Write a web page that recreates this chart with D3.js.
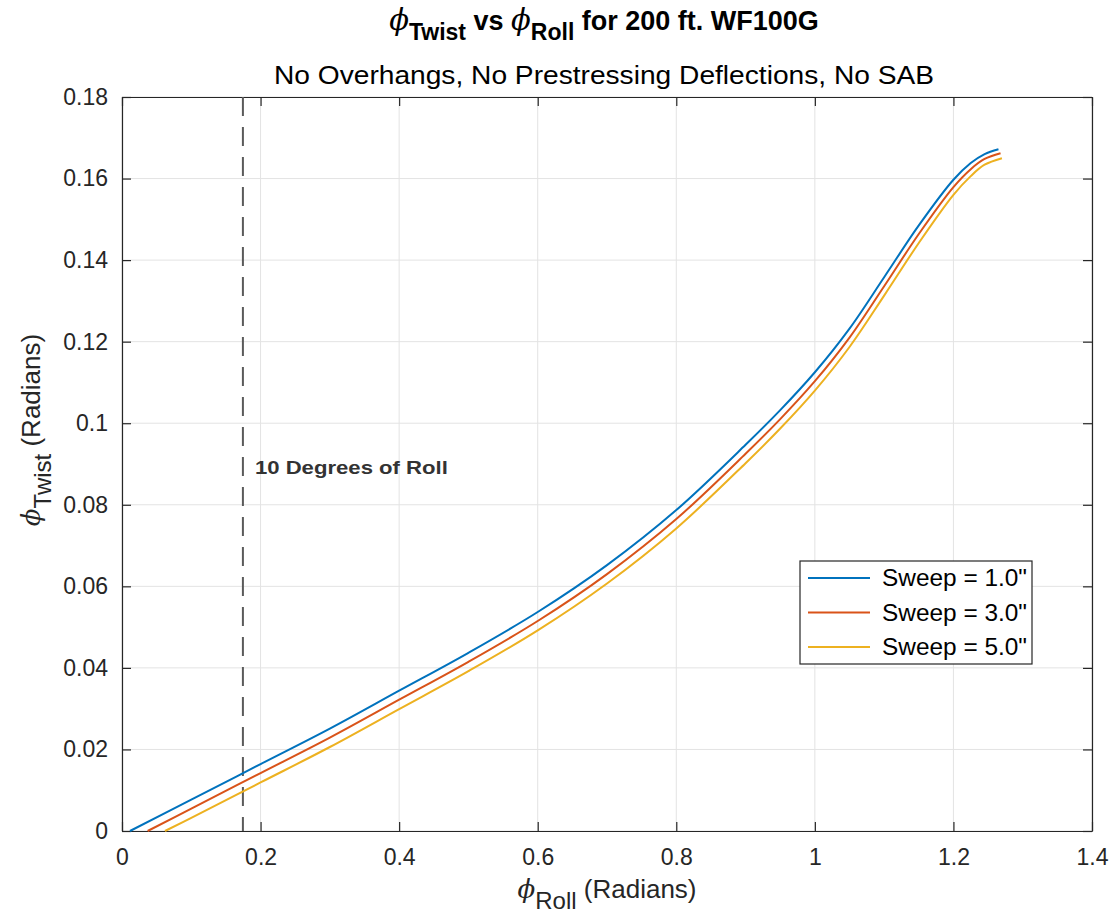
<!DOCTYPE html>
<html><head><meta charset="utf-8">
<script src="https://cdn.jsdelivr.net/npm/d3@7"></script>
<style>
body{margin:0;background:#fff;}
svg text{font-family:"Liberation Sans",Arial,Helvetica,sans-serif;}
</style></head>
<body><svg id="c" width="1110" height="919"></svg>
<script>
const seriesNames = ['Sweep = 1.0"', 'Sweep = 3.0"', 'Sweep = 5.0"'];
const seriesColors = ["#0072BD", "#D95319", "#EDB120"];
const blueRoll  = [0.0115,0.1,0.2,0.3,0.4,0.5,0.6,0.7,0.8,0.9,0.95,1.0,1.05,1.1,1.15,1.2,1.225,1.245,1.265];
const blueTwist = [0,0.0077,0.0164,0.0251,0.0344,0.0437,0.0537,0.0652,0.0787,0.0947,0.1032,0.1125,0.1232,0.1358,0.1485,0.1597,0.1638,0.1660,0.1672];
const redRoll   = [0.037,0.1,0.2,0.3,0.4,0.5,0.6,0.7,0.8,0.9,0.95,1.0,1.05,1.1,1.15,1.2,1.225,1.245,1.268];
const redTwist  = [0,0.0055,0.0142,0.0229,0.0322,0.0415,0.0515,0.0630,0.0765,0.0925,0.1010,0.1103,0.1210,0.1336,0.1464,0.1579,0.1623,0.1648,0.1662];
const yelRoll   = [0.062,0.1,0.2,0.3,0.4,0.5,0.6,0.7,0.8,0.9,0.95,1.0,1.05,1.1,1.15,1.2,1.225,1.245,1.27];
const yelTwist  = [0,0.0032,0.0119,0.0206,0.0299,0.0392,0.0492,0.0607,0.0742,0.0902,0.0987,0.1080,0.1187,0.1313,0.1442,0.1560,0.1606,0.1634,0.1650];
const xTicks = [0,0.2,0.4,0.6,0.8,1,1.2,1.4];
const yTicks = [0,0.02,0.04,0.06,0.08,0.1,0.12,0.14,0.16,0.18];
const xTickLabels = ["0","0.2","0.4","0.6","0.8","1","1.2","1.4"];
const yTickLabels = ["0","0.02","0.04","0.06","0.08","0.1","0.12","0.14","0.16","0.18"];
const rollLimit = 0.1745; // 10 degrees
const annotation = "10 Degrees of Roll";

const L=122,R=1092,T=97,B=831;
const svg=d3.select("#c");
const x=d3.scaleLinear().domain([0,1.4]).range([L,R]);
const y=d3.scaleLinear().domain([0,0.18]).range([B,T]);
const axisColor="#262626";

// grid
svg.append("g").selectAll("line").data(xTicks).join("line")
 .attr("x1",d=>x(d)).attr("x2",d=>x(d)).attr("y1",T).attr("y2",B)
 .attr("stroke","#e3e3e3").attr("stroke-width",1);
svg.append("g").selectAll("line").data(yTicks).join("line")
 .attr("y1",d=>y(d)).attr("y2",d=>y(d)).attr("x1",L).attr("x2",R)
 .attr("stroke","#e3e3e3").attr("stroke-width",1);

// axes
const fs=23;
const xb=svg.append("g").attr("transform",`translate(0,${B})`)
 .call(d3.axisBottom(x).tickValues(xTicks).tickFormat((d,i)=>xTickLabels[i]).tickSizeInner(-9).tickSizeOuter(0).tickPadding(18));
const xt=svg.append("g").attr("transform",`translate(0,${T})`)
 .call(d3.axisTop(x).tickValues(xTicks).tickFormat("").tickSizeInner(-9).tickSizeOuter(0));
const yl=svg.append("g").attr("transform",`translate(${L},0)`)
 .call(d3.axisLeft(y).tickValues(yTicks).tickFormat((d,i)=>yTickLabels[i]).tickSizeInner(-9).tickSizeOuter(0).tickPadding(14));
const yr=svg.append("g").attr("transform",`translate(${R},0)`)
 .call(d3.axisRight(y).tickValues(yTicks).tickFormat("").tickSizeInner(-9).tickSizeOuter(0));
[xb,xt,yl,yr].forEach(g=>{
 g.selectAll("path").attr("stroke",axisColor).attr("stroke-width",1.2);
 g.selectAll("line").attr("stroke",axisColor).attr("stroke-width",1.2);
 g.selectAll("text").attr("fill",axisColor).style("font-size",fs+"px").style("font-family","Liberation Sans, Arial, sans-serif");
});

// dashed line
svg.append("line").attr("x1",x(rollLimit)).attr("x2",x(rollLimit)).attr("y1",y(0.18)).attr("y2",y(0))
 .attr("stroke","#5a5a5a").attr("stroke-width",2).attr("stroke-dasharray","19,11");

// lines
const series=[[blueRoll,blueTwist],[redRoll,redTwist],[yelRoll,yelTwist]];
const line=d3.line().x(d=>x(d[0])).y(d=>y(d[1])).curve(d3.curveCatmullRom.alpha(0.5));
series.forEach((s,i)=>{
 const pts=s[0].map((v,j)=>[v,s[1][j]]);
 svg.append("path").datum(pts).attr("d",line).attr("fill","none")
  .attr("stroke",seriesColors[i]).attr("stroke-width",2);
});

// annotation
svg.append("text").attr("x",x(rollLimit)+12).attr("y",y(0.089)+6)
 .attr("font-size",19).attr("font-weight","bold").attr("fill","#333")
 .attr("textLength",193).attr("lengthAdjust","spacingAndGlyphs").text(annotation);

// legend
const lg=svg.append("g");
lg.append("rect").attr("x",800).attr("y",561).attr("width",232).attr("height",103)
 .attr("fill","#fff").attr("stroke",axisColor).attr("stroke-width",1.2);
seriesNames.forEach((n,i)=>{
 const yy=578+i*34.5;
 lg.append("line").attr("x1",808).attr("x2",870).attr("y1",yy).attr("y2",yy)
  .attr("stroke",seriesColors[i]).attr("stroke-width",2);
 lg.append("text").attr("x",882).attr("y",yy+8).attr("font-size",23).attr("fill","#000")
  .attr("textLength",145).attr("lengthAdjust","spacingAndGlyphs").text(n);
});

// title
const phiFont="DejaVu Serif, serif";
const title=svg.append("text").attr("x",604).attr("y",30).attr("text-anchor","middle")
 .attr("font-size",27).attr("font-weight","bold").attr("fill","#000");
title.append("tspan").attr("font-family",phiFont).attr("font-style","italic").attr("font-weight","normal").attr("font-size",29).text("ϕ");
title.append("tspan").attr("dy",10).attr("font-size",23).text("Twist");
title.append("tspan").attr("dy",-10).text(" vs ");
title.append("tspan").attr("font-family",phiFont).attr("font-style","italic").attr("font-weight","normal").attr("font-size",29).text("ϕ");
title.append("tspan").attr("dy",10).attr("font-size",23).text("Roll");
title.append("tspan").attr("dy",-10).text(" for 200 ft. WF100G");

svg.append("text").attr("x",604).attr("y",84).attr("text-anchor","middle")
 .attr("font-size",25).attr("fill","#000").attr("textLength",660).attr("lengthAdjust","spacingAndGlyphs")
 .text("No Overhangs, No Prestressing Deflections, No SAB");

// x label
const xlab=svg.append("text").attr("x",607).attr("y",898).attr("text-anchor","middle")
 .attr("font-size",26).attr("fill","#262626");
xlab.append("tspan").attr("font-family",phiFont).attr("font-style","italic").text("ϕ");
xlab.append("tspan").attr("dy",11).attr("font-size",24).text("Roll");
xlab.append("tspan").attr("dy",-11).text(" (Radians)");

// y label
const ylab=svg.append("text").attr("transform","translate(40,430) rotate(-90)").attr("text-anchor","middle")
 .attr("font-size",26).attr("fill","#262626");
ylab.append("tspan").attr("font-family",phiFont).attr("font-style","italic").text("ϕ");
ylab.append("tspan").attr("dy",11).attr("font-size",24).text("Twist");
ylab.append("tspan").attr("dy",-11).text(" (Radians)");
</script></body></html>
